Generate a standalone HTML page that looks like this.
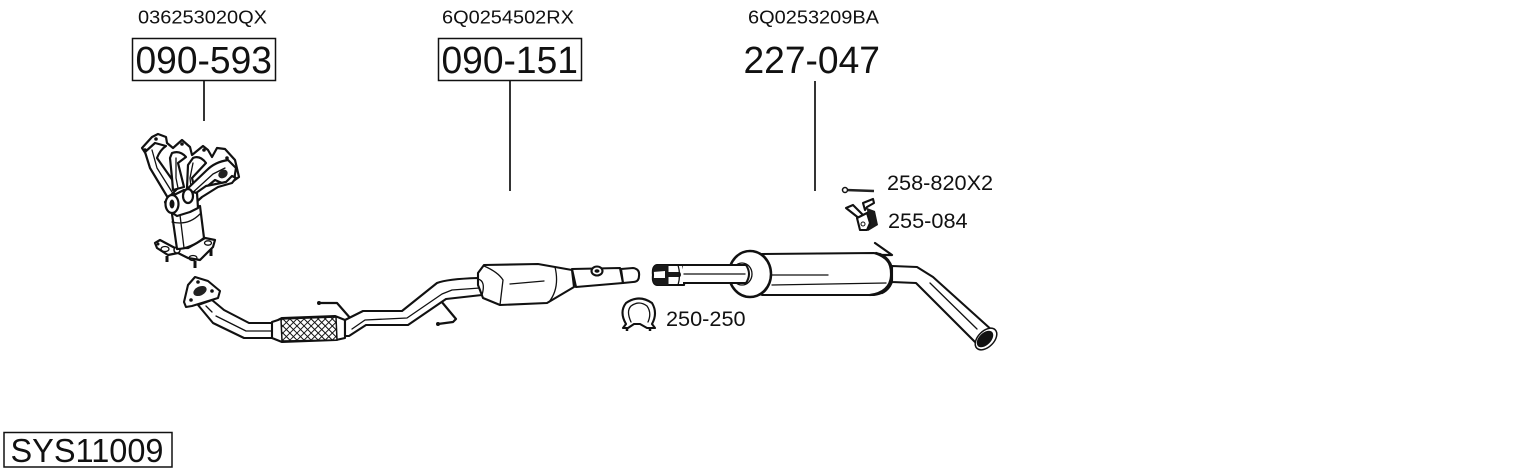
<!DOCTYPE html>
<html><head><meta charset="utf-8"><style>
html,body{margin:0;padding:0;background:#fff}
svg{display:block}
text{font-family:"Liberation Sans",sans-serif;fill:#111}
.o{fill:#fff;stroke:#111;stroke-width:2.100;stroke-linejoin:round;stroke-linecap:round}
.m{fill:#fff;stroke:#111;stroke-width:2.200;stroke-linejoin:round;stroke-linecap:round}
.l{fill:none;stroke:#111;stroke-width:1.300;stroke-linecap:round;stroke-linejoin:round}
.t{fill:none;stroke:#111;stroke-width:2.200;stroke-linecap:round;stroke-linejoin:round}
</style></head><body>
<svg width="1530" height="474" viewBox="0 0 1530 474" xmlns="http://www.w3.org/2000/svg">
<text x="138" y="23.500" font-size="18.500" textLength="129" lengthAdjust="spacingAndGlyphs">036253020QX</text>
<text x="442" y="23.500" font-size="18.500" textLength="132" lengthAdjust="spacingAndGlyphs">6Q0254502RX</text>
<text x="748" y="23.500" font-size="18.500" textLength="131" lengthAdjust="spacingAndGlyphs">6Q0253209BA</text>
<rect x="132.500" y="38.500" width="143" height="42" fill="none" stroke="#111" stroke-width="1.500"/>
<rect x="438.500" y="38.500" width="143" height="42" fill="none" stroke="#111" stroke-width="1.500"/>
<text x="135.500" y="73" font-size="38" textLength="136.500" lengthAdjust="spacingAndGlyphs">090-593</text>
<text x="441.500" y="73" font-size="38" textLength="136.500" lengthAdjust="spacingAndGlyphs">090-151</text>
<text x="743.500" y="73" font-size="38" textLength="136.500" lengthAdjust="spacingAndGlyphs">227-047</text>
<line x1="204" y1="81" x2="204" y2="121" stroke="#111" stroke-width="1.700"/>
<line x1="510" y1="81" x2="510" y2="191" stroke="#111" stroke-width="1.700"/>
<line x1="815" y1="81" x2="815" y2="191" stroke="#111" stroke-width="1.700"/>
<text x="887" y="190" font-size="21.700">258-820X2</text>
<text x="888" y="228" font-size="21.700">255-084</text>
<text x="666" y="326" font-size="21.700">250-250</text>
<rect x="4" y="432.500" width="168" height="34.500" fill="none" stroke="#111" stroke-width="1.500"/>
<text x="10.500" y="462" font-size="33" textLength="153" lengthAdjust="spacingAndGlyphs">SYS11009</text>

<!-- manifold: lower flange and body -->
<path class="m" d="M155 243L160 240L175 248L188 248L205 238L215 240L213 247L200 260L188 258L178 253L168 255L157 248Z"/>
<ellipse class="l" cx="165" cy="249" rx="4" ry="2.500"/><ellipse class="l" cx="193" cy="258" rx="4" ry="2.500"/><ellipse class="l" cx="208" cy="243" rx="3.500" ry="2.200"/>
<circle cx="158" cy="244" r="1.500" fill="#111"/><circle cx="177" cy="250" r="3" fill="#fff" stroke="#111" stroke-width="1.500"/>
<path d="M167 256v6M195 261v7M211 249v7" stroke="#111" stroke-width="3"/>
<path class="m" d="M172 214L177 249Q190 249 204 238L200 206Z"/>
<path class="l" d="M180 215L184 248M172 222Q188 226 200 214"/>
<!-- manifold upper flange -->
<path class="m" d="M142 148L152 137L158 134L166 137L167 143L173 148L182 140L190 147L192 155L203 146L208 150L212 157L217 148L225 149L235 160L239 177L232 182L220 186L200 195L175 195L150 160Z"/>
<circle cx="145" cy="150" r="1.800" fill="#111"/><circle cx="156" cy="139" r="1.800" fill="#111"/><circle cx="182" cy="144" r="1.800" fill="#111"/><circle cx="204" cy="150" r="1.800" fill="#111"/><circle cx="227" cy="158" r="1.800" fill="#111"/><circle cx="234" cy="176" r="1.800" fill="#111"/>
<!-- runners -->
<path class="m" d="M145 152L150 168L168 198L178 188L157 158Q160 150 166 146L155 143Z"/>
<path class="l" d="M152 150L157 168L172 192"/>
<path class="m" d="M170 158L172 178L173 190L184 187L178 163L186 157Q180 150 172 153Z"/>
<path class="l" d="M176 158L176 178L178 188"/>
<path class="m" d="M188 165L187 188L195 190L192 178L206 163Q200 155 193 158Z"/>
<path class="l" d="M193 163L190 178L191 187"/>
<path class="m" d="M184 192L207 170Q215 162 228 160L236 168L234 180L222 183L215 180L188 202Z"/>
<path class="l" d="M190 195L213 174L225 168"/>
<ellipse cx="223" cy="174" rx="5" ry="4" fill="#222" transform="rotate(-35 223 174)"/>
<path class="m" d="M186 200L206 186L226 182L232 176L236 178L232 183L218 187L202 197L192 206Z"/>
<!-- collars -->
<path class="m" d="M172 196L184 190L197 193L198 208L190 212L177 216L168 210L165 202Z"/>
<ellipse class="m" cx="172" cy="204" rx="6.500" ry="9"/>
<ellipse cx="172" cy="204" rx="2.500" ry="4.500" fill="#111"/>
<ellipse class="m" cx="188" cy="196" rx="5" ry="7"/>

<!-- front pipe -->
<path class="o" d="M212 300L224 310L249 323L273 323L273 338L244 338L213 323L198 305Z"/>
<path class="l" d="M206 306L212 312M216 316L246 331L272 331"/>
<path class="o" d="M195 277L208 281L220 291L218 298L192 306L186 307L184 302L188 285Z"/>
<ellipse cx="200" cy="291" rx="7" ry="4.500" fill="#222" transform="rotate(-25 200 291)"/>
<circle cx="198" cy="282" r="1.800" fill="#111"/><circle cx="212" cy="291" r="1.800" fill="#111"/><circle cx="191" cy="300" r="1.800" fill="#111"/>
<path class="o" d="M272 322L278 320L282 318L335 316L345 320L345 338L336 340L282 342L277 340L272 338Z"/>
<defs><pattern id="m" width="5" height="5" patternUnits="userSpaceOnUse" patternTransform="rotate(45)"><rect width="5" height="5" fill="#fff"/><path d="M0 0H5M0 0V5" stroke="#111" stroke-width="1.900"/></pattern></defs>
<path d="M281 319L336 317L337 340L282 341Z" fill="url(#m)" stroke="#111" stroke-width="1.500"/>
<path class="t" d="M319 303L337 303L351 319"/><circle cx="319" cy="303" r="2" fill="#111"/>
<path class="t" d="M441 301L456 319L453 322L438 324"/><circle cx="438" cy="324" r="2" fill="#111"/>
<path class="o" d="M345 320L363 311L402 311L437 283Q447 279 478 278L482 295L446 299L408 325L366 325L349 336L345 336Z"/>
<path class="l" d="M352 329L365 320L407 318L442 294L452 290L480 288"/>

<!-- cat -->
<path class="o" d="M572 269L620 268L623 283L576 287Z"/>
<path class="o" d="M621 269L633 268Q640 269 639 276Q639 282 633 282L623 283Z"/>
<path class="o" d="M478 273L484 265L538 264L572 270L574 287L547 303L500 305L483 298L478 285Z"/>
<path class="l" d="M484 266Q498 272 503 280L500 305M478 279Q486 281 482 295M555 267Q560 288 549 302M510 284L544 281M572 270L576 287"/>
<ellipse class="o" cx="597" cy="271" rx="5.500" ry="4.500"/>
<ellipse cx="597" cy="271" rx="2.500" ry="1.800" fill="#111"/>

<!-- clamp -->
<path class="o" d="M626 324Q619 312 626 303Q639 294 652 303Q658 313 652 324L655 328L647 328L640 324L634 324L628 328L623 328Z"/>
<path class="l" d="M631 322Q626 311 631 306Q639 300 647 306Q652 313 648 322"/>
<path d="M627 328v3M650 328v3" stroke="#111" stroke-width="2.500"/>

<!-- rear -->
<path class="o" d="M684 265L746 265Q752 274 746 283L684 283Z"/>
<path class="o" d="M657 265L683 265Q686 275 684 285L657 285Q652 284 653 275Q652 266 657 265Z"/>
<path d="M657 265L665 265L665 271L653 272Q653 266 657 265Z M653 278L665 278L665 285L657 285Q653 284 653 278Z" fill="#1a1a1a"/>
<rect x="665" y="265" width="3.500" height="20" fill="#1a1a1a"/>
<path d="M667 272L680 272Q682 275 680 277L667 277Z" fill="#1a1a1a"/>
<path class="l" d="M678 265Q681 275 678 285"/>
<path class="l" d="M689 274L732 274"/>
<path class="o" d="M762 254L874 253Q892 258 892 275Q891 293 874 295L762 295Z"/>
<path class="l" d="M770 275L828 275M772 285L886 283"/>
<path class="t" d="M876 253Q892 257 891 276Q890 292 870 295"/>
<path class="t" d="M880 254Q893 260 893 276Q892 288 882 293"/>
<ellipse cx="750" cy="274" rx="21" ry="23" fill="#fff" stroke="#111" stroke-width="2.500"/>
<path class="l" d="M762 254Q772 262 771 276Q770 290 760 295"/>
<ellipse cx="742" cy="274" rx="10" ry="11" fill="#fff" stroke="#111" stroke-width="1.300"/>
<path d="M683 265L746 265Q752 274 746 283L683 283" fill="#fff" stroke="#111" stroke-width="2"/>
<path class="l" d="M684 274L745 274"/>
<path class="t" d="M875 243L892 255L882 255"/>
<path class="o" d="M892 266L917 267L933 277L994 332L980 347L916 283L892 282Z"/>
<path class="l" d="M930 283L977 329"/>
<ellipse cx="986" cy="339" rx="13" ry="8" fill="#fff" stroke="#111" stroke-width="1.500" transform="rotate(-45 986 339)"/>
<ellipse cx="985" cy="339" rx="10" ry="6" fill="#111" transform="rotate(-45 985 339)"/>

<!-- bolt -->
<path d="M846 190L874 191" stroke="#222" stroke-width="2.600"/>
<circle cx="845" cy="190" r="2.500" fill="#fff" stroke="#111" stroke-width="1.500"/>
<!-- hanger -->
<path d="M867 208L875 211L878 225L868 231Z" fill="#1a1a1a"/>
<path class="o" d="M846 208L853 205L863 215L860 219Z"/>
<path class="o" d="M863 203L873 199L874 203L867 207L865 210Z"/>
<path class="o" d="M857 218L867 213L870 223L867 230L860 230Z"/>
<circle cx="863" cy="224" r="2" fill="#fff" stroke="#111"/>
</svg>
</body></html>
